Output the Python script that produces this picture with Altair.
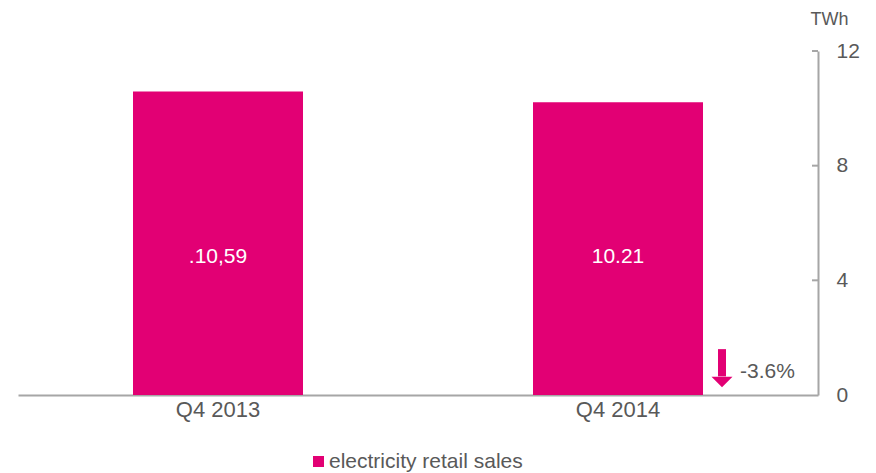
import altair as alt
import pandas as pd

quarters = ["Q4 2013", "Q4 2014"]
sales = [10.59, 10.21]
bar_labels = [".10,59", "10.21"]
series_name = "electricity retail sales"
y_ticks = [0, 4, 8, 12]
change_label = "-3.6%"
arrow_top = 1.6
arrow_shaft_end = 0.65
arrow_head = 0.45
change_text_y = 0.8

MAGENTA = "#E20074"
GRAY_TEXT = "#595959"
GRAY_LINE = "#A6A6A6"
FONT = "Liberation Sans"

df = pd.DataFrame({"quarter": quarters, "sales": sales, "label": bar_labels,
                   "series": [series_name] * len(quarters)})
ticks_df = pd.DataFrame({"v": y_ticks[1:]})
ann_df = pd.DataFrame({"quarter": [quarters[1]], "top": [arrow_top], "bottom": [arrow_shaft_end],
                       "head": [arrow_head], "ty": [change_text_y], "text": [change_label]})

xscale = alt.Scale(domain=quarters, paddingInner=0.575, paddingOuter=0.2875)
yscale = alt.Scale(domain=[0, 12], nice=False)

bars = alt.Chart(df).mark_bar(color=MAGENTA).encode(
    x=alt.X("quarter:N", scale=xscale, sort=quarters,
            axis=alt.Axis(title=None, labelAngle=0, labelFontSize=22, labelColor=GRAY_TEXT,
                          labelFont=FONT, ticks=False, domainColor=GRAY_LINE, domainWidth=2,
                          labelPadding=4)),
    y=alt.Y("sales:Q", scale=yscale,
            axis=alt.Axis(orient="right", values=y_ticks, title="TWh", titleAngle=0,
                          titleX=11, titleY=-32, titleAlign="center", titleBaseline="middle",
                          titleFontSize=18, titleFontWeight="normal", titleColor=GRAY_TEXT,
                          titleFont=FONT, labelFontSize=21, labelColor=GRAY_TEXT, labelFont=FONT,
                          ticks=False, grid=False, domainColor=GRAY_LINE, domainWidth=2,
                          labelPadding=18)),
    fill=alt.Fill("series:N", scale=alt.Scale(range=[MAGENTA]),
                  legend=alt.Legend(title=None, orient="none", legendX=290, legendY=400,
                                    symbolType="square", symbolSize=121, symbolStrokeWidth=0,
                                    labelFontSize=21, labelColor=GRAY_TEXT, labelFont=FONT,
                                    labelOffset=0, labelLimit=0)),
)

labels = alt.Chart(df).mark_text(color="white", fontSize=21, font=FONT).encode(
    x=alt.X("quarter:N", scale=xscale, sort=quarters),
    y=alt.value(206),
    text="label:N",
)

tick_rules = alt.Chart(ticks_df).mark_rule(color=GRAY_LINE, strokeWidth=2).encode(
    y=alt.Y("v:Q", scale=yscale),
    x=alt.value(794),
    x2=alt.value(800),
)

arrow_shaft = alt.Chart(ann_df).mark_rule(color=MAGENTA, strokeWidth=8, xOffset=104).encode(
    x=alt.X("quarter:N", scale=xscale, sort=quarters),
    y=alt.Y("top:Q", scale=yscale),
    y2="bottom:Q",
)

arrow_head_mark = alt.Chart(ann_df).mark_point(shape="M-1,-0.5L1,-0.5L0,0.5Z", filled=True,
                                               color=MAGENTA, size=441, opacity=1,
                                               strokeWidth=0, xOffset=104).encode(
    x=alt.X("quarter:N", scale=xscale, sort=quarters),
    y=alt.Y("head:Q", scale=yscale),
)

change_text = alt.Chart(ann_df).mark_text(color=GRAY_TEXT, fontSize=21, font=FONT, align="left",
                                          xOffset=122).encode(
    x=alt.X("quarter:N", scale=xscale, sort=quarters),
    y=alt.Y("ty:Q", scale=yscale),
    text="text:N",
)

chart = alt.layer(bars, labels, tick_rules, arrow_shaft, arrow_head_mark,
                  change_text).properties(
    width=800, height=344,
    autosize=alt.AutoSizeParams(type="none"),
    padding={"left": 10, "top": 43, "right": 50, "bottom": 78},
    background="white",
).configure_view(strokeWidth=0)

chart.save("out.html", embed_options={"renderer": "svg", "actions": False})
